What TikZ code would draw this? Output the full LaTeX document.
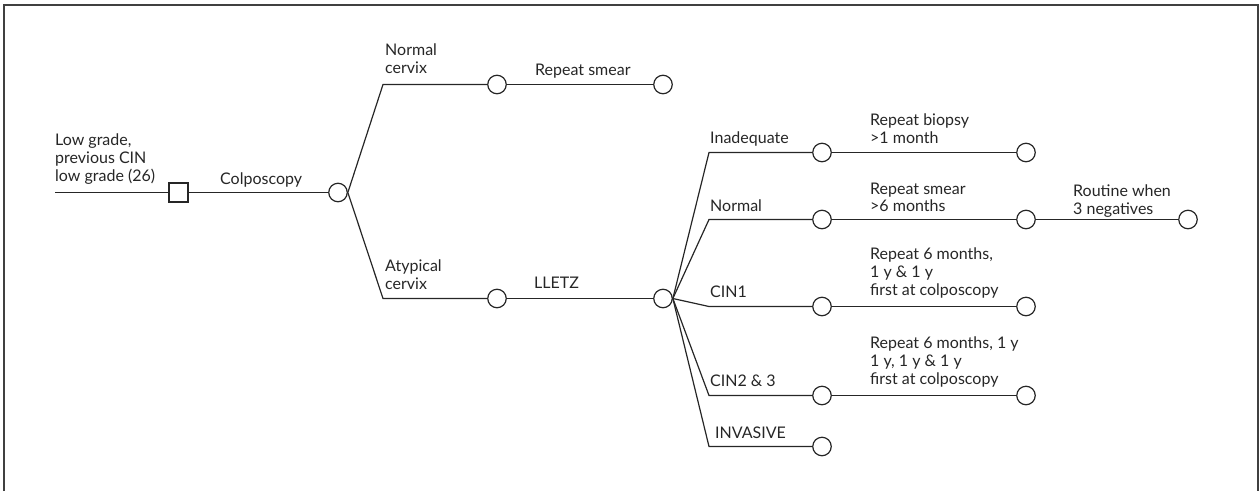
\documentclass[tikz,border=0pt]{standalone}
\usepackage{fontspec}
\setmainfont{Lato}
\begin{document}
\begin{tikzpicture}[x=1pt,y=-1pt,
  conn/.style={draw=black!85,line width=1.2pt},
  chance/.style={circle,draw=black!85,line width=1.2pt,fill=white,minimum size=18.5pt,inner sep=0pt},
  decision/.style={rectangle,draw=black!85,line width=1.2pt,fill=white,minimum size=19pt,inner sep=0pt},
  lbl/.style={anchor=base west,inner sep=0pt,align=left,text=black!85,font=\fontsize{16}{17.7}\selectfont}]
\useasboundingbox (0,0) rectangle (1259,491);
\draw[line width=1.6pt,black!75] (4,491) -- (4,5) -- (1258,5) -- (1258,491);

% nodes
\coordinate (start) at (55,192.5);
\node[decision] (d) at (178.5,192.5) {};
\node[chance] (c1) at (338,192.5) {};
\coordinate (nb) at (383,84.5);
\coordinate (ab) at (383,298.5);
\node[chance] (n1) at (497,84.5) {};
\node[chance] (n2) at (663,84.5) {};
\node[chance] (a1) at (497,298.5) {};
\node[chance] (a2) at (663,298.5) {};
\foreach \i/\y in {1/152.5,2/219.5,3/306.5,4/395.5,5/446.5}{
  \coordinate (b\i) at (709,\y);
  \node[chance] (r\i) at (822,\y) {};
}
\foreach \i/\y in {1/152.5,2/219.5,3/306.5,4/395.5}{
  \node[chance] (s\i) at (1026,\y) {};
}
\node[chance] (t2) at (1188,219.5) {};

% connectors
\draw[conn] (start) -- (d.west);
\draw[conn] (d.east) -- (c1.west);
\draw[conn] (c1.east) -- (nb) -- (n1.west);
\draw[conn] (c1.east) -- (ab) -- (a1.west);
\draw[conn] (n1.east) -- (n2.west);
\draw[conn] (a1.east) -- (a2.west);
\foreach \i in {1,...,5}{
  \draw[conn] (a2.east) -- (b\i) -- (r\i.west);
}
\foreach \i in {1,...,4}{
  \draw[conn] (r\i.east) -- (s\i.west);
}
\draw[conn] (s2.east) -- (t2.west);

% labels (anchored at the baseline of the last line)
\node[lbl] (l1) at (55,181) {Low grade,\\previous CIN\\low grade (26)};
\node[lbl] (l2) at (220,184) {Colposcopy};
\node[lbl] (l3) at (385,73.3) {Normal\\cervix};
\node[lbl] (l4) at (535,75) {Repeat smear};
\node[lbl] (l5) at (385,289.3) {Atypical\\cervix};
\node[lbl] (l6) at (534,288) {LLETZ};
\node[lbl] (l7) at (710,143.3) {Inadequate};
\node[lbl] (l8) at (870,143.3) {Repeat biopsy\\>1 month};
\node[lbl] (l9) at (710,211.7) {Normal};
\node[lbl] (l10) at (870,211.7) {Repeat smear\\>6 months};
\node[lbl] (l11) at (1073,214) {Routine when\\3 negatives};
\node[lbl] (l12) at (870,295) {Repeat 6 months,\\1 y \& 1 y\\first at colposcopy};
\node[lbl] (l13) at (710,297.3) {CIN1};
\node[lbl] (l14) at (870,384.3) {Repeat 6 months, 1 y\\1 y, 1 y \& 1 y\\first at colposcopy};
\node[lbl] (l15) at (710,386) {CIN2 \& 3};
\node[lbl] (l16) at (715,438.3) {INVASIVE};
\end{tikzpicture}
\end{document}
